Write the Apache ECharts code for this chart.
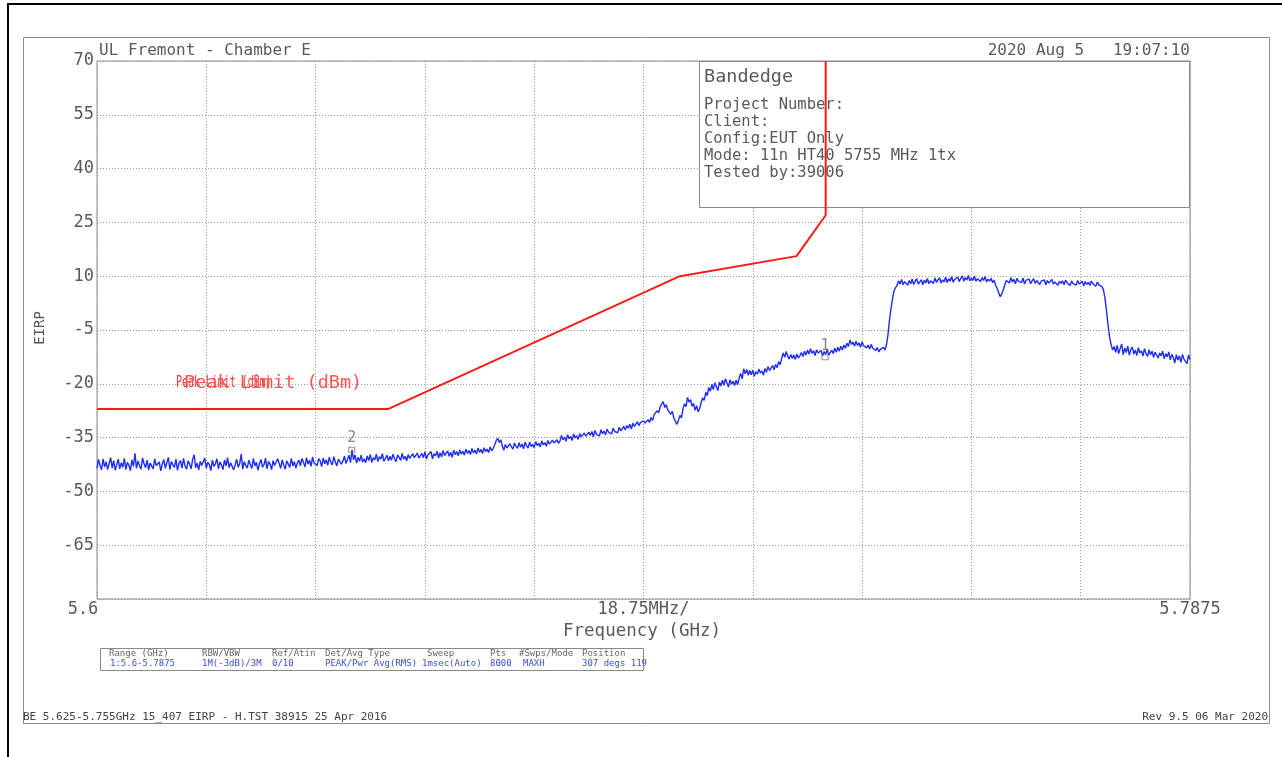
<!DOCTYPE html>
<html>
<head>
<meta charset="utf-8">
<title>Bandedge EIRP</title>
<script src="https://cdn.jsdelivr.net/npm/echarts@6/dist/echarts.min.js"></script>
<style>
  html, body { margin: 0; padding: 0; background: #fff; }
  #chart { width: 1282px; height: 757px; }
</style>
</head>
<body>
<div id="chart"></div>
<script>
// Sweep settings (GHz)
const sweepStartGHz = 5.6;
const sweepStopGHz = 5.7875;
const freqStepGHz = 0.01875;

// Max-hold trace (dBm EIRP), consecutive sweep bins split into spectral regions
const traceFloor = [
  -43.6,-41.1,-42.8,-44.0,-40.9,-43.2,-41.7,-43.9,-42.2,-40.6,-43.5,-41.4,-44.1,-42.6,-41.0,-43.7,-42.0,-43.3,-40.8,-43.9,
  -41.9,-42.7,-44.2,-41.2,-43.0,-39.4,-43.6,-41.5,-42.9,-43.8,-40.7,-42.3,-43.4,-41.3,-44.0,-42.1,-41.6,-43.7,-40.9,-42.8,
  -43.2,-41.8,-44.3,-42.4,-41.1,-43.6,-42.0,-40.5,-43.9,-41.7,-42.6,-43.3,-41.0,-44.1,-42.2,-41.4,-43.5,-40.8,-42.9,-43.8,
  -41.5,-42.4,-43.7,-41.1,-39.8,-43.4,-42.1,-44.0,-41.6,-42.8,-43.1,-40.7,-43.6,-41.9,-42.5,-44.2,-41.3,-43.0,-42.3,-40.9,
  -43.7,-41.8,-42.6,-43.9,-41.2,-42.9,-40.6,-43.4,-42.0,-41.5,-44.0,-42.7,-41.0,-43.3,-42.2,-39.6,-43.8,-41.7,-42.8,-43.5,
  -41.3,-42.5,-43.6,-40.8,-42.9,-41.9,-44.1,-42.3,-41.1,-43.2,-42.6,-40.7,-43.7,-41.6,-42.4,-43.9,-41.4,-42.8,-43.0,-40.9,
  -42.2,-43.6,-41.2,-42.7,-43.8,-41.5,-42.0,-43.3,-40.8,-42.9,-41.7,-43.5,-42.1,-41.3
];
const traceFloorRise = [
  -42.9,-40.8,-41.9,-43.2,-40.6,-42.4,-41.3,-43.0,-40.4,-42.1,-41.7,-42.8,-40.9,-41.5,-43.1,-40.7,-42.3,-41.2,-42.7,-40.5,
  -41.9,-42.6,-40.3,-41.8,-42.9,-41.0,-40.6,-42.4,-41.5,-40.2,-42.2,-41.1,-39.9,-42.0,-38.4,-41.2,-39.8,-42.1,-40.5,-41.6,
  -39.9,-41.8,-40.9,-42.0,-40.1,-41.4,-39.7,-41.9,-40.6,-41.2,-39.6,-41.7,-40.3,-41.0,-39.5,-41.6,-40.8,-39.9,-41.5,-40.2,
  -41.3,-39.6,-40.9,-41.7,-39.8,-40.5,-41.4,-39.4,-41.0,-40.2,-41.5,-39.7,-40.8,-41.2,-39.5,-40.6,-41.1,-39.3,-40.7,
  -41.2,-39.4,-40.6,-39.0,-41.0,-39.8,-40.3,-38.9,-40.9,-39.5,-40.1,-38.8,-40.7,-39.2,-40.4,-38.6,-40.0,-39.6,-38.7,-40.2,
  -39.1,-40.5,-38.5,-39.8,-38.9,-40.1,-38.4,-39.6,-38.8,-39.9,-38.2,-39.4,-38.6,-39.7,-38.0,-39.3,-38.5,-39.6,-37.9,-39.1,
  -38.3,-39.4,-37.8,-38.9,-38.2,-39.2,-37.6,-38.7,-38.0,
  -37.0,-35.8,-35.2,-36.4,-35.6,-37.3
];
const traceLowerSkirt = [
  -38.5,-36.9,-37.9,-38.4,-36.7,-37.6,-38.2,-36.5,-37.4,-38.0,-36.4,-37.7,-36.8,-38.1,-36.3,-37.3,-37.9,-36.2,-37.5,-36.9,
  -37.8,-36.1,-37.2,-36.6,-37.6,-35.9,-37.0,-36.4,-37.4,-35.8,-36.8,-37.1,-35.7,-36.5,-37.0,-35.6,-36.6,
  -35.9,-34.4,-35.6,-34.9,-36.0,-34.2,-35.3,-34.7,-35.8,-34.0,-35.1,-34.5,-35.5,-33.9,-34.8,-35.2,-33.7,-34.6,-35.0,-33.5,
  -34.4,-33.3,-34.8,-33.0,-34.1,-33.6,-34.5,-32.8,-33.9,-33.2,-34.2,-32.6,-33.5,-33.0,-34.0,-32.4,-33.3,-32.8,-33.7,-32.1,
  -33.1,-32.5,-31.9,-32.9,-31.6,-32.4,-31.3,-32.6,-31.0,-31.9,-31.4,-30.6,-31.7,-30.8,-31.2,-30.3,-31.0,-30.5,-30.0,
  -30.8,-29.4,-30.2,-28.6,-29.0,-27.5,-28.1,-26.4,-25.6,-25.0,-26.6,-25.8,-27.3,-27.9,-28.5,-27.7,-29.6,-30.4,-31.3,-30.2,
  -28.8,-29.5,-27.0,-25.6,-26.4,-23.8,-25.1,-24.4,-26.2,-25.5,-27.4,-26.1,-27.8,-26.9
];
const traceUpperSkirt = [
  -25.2,-23.9,-24.6,-22.4,-23.3,-21.0,-22.1,-20.2,-21.6,-19.7,-20.8,-21.9,-19.5,-20.6,-19.0,-20.4,-18.6,-19.8,-20.9,-18.9,
  -20.1,-19.3,-20.5,-19.0,-20.2,-18.4,-17.1,-18.6,-15.8,-17.2,-16.0,-17.6,-16.3,
  -17.5,-16.2,-17.9,-16.6,-17.3,-15.9,-17.0,-16.4,-17.6,-15.7,-16.8,-15.2,-16.3,-15.6,-14.9,-16.1,-14.6,-15.5,-13.8,-14.7,
  -12.9,-11.4,-12.6,-11.0,-12.3,-13.1,-11.8,-12.9,-12.0,-13.2,-11.7,-12.8,-12.2,
  -11.3,-12.4,-10.9,-12.0,-10.6,-11.7,-10.2,-11.5,-10.8,-12.1,-10.5,-11.4,-11.9,-10.7,-12.2,-11.0,-11.8,-10.4,-12.0,-11.3,
  -10.6,-11.6,-10.1,-11.2,-9.8,-10.9,-9.5,-10.6,-9.2,-10.1,-8.7,-9.6,-7.8,-9.0,-8.4,-9.5,-8.1,-9.3,-8.6,-9.8,
  -8.3,-9.4,-8.9,-10.0,-9.2,-10.3,-9.0,-10.1,-9.6,-10.7,-9.9,-11.1,-10.4
];
const traceChannel = [
  -10.9,-9.8,-10.6,-9.2,-6.5,-2.4,0.8,3.6,5.9,6.8,
  7.4,8.7,7.8,9.1,7.6,8.5,9.0,7.5,8.8,7.9,9.2,7.7,8.6,9.3,7.8,8.4,9.0,7.6,8.9,8.1,
  9.4,7.9,8.7,9.2,8.0,9.5,8.3,8.8,9.6,8.1,9.0,8.4,9.7,8.2,9.3,8.6,9.9,8.3,9.1,8.7,
  9.8,8.5,9.4,10.1,8.6,9.6,8.9,10.2,8.7,9.5,8.8,10.0,8.6,9.3,9.7,8.5,9.6,8.8,9.9,8.4,
  9.2,
  8.6,9.4,8.2,8.9,7.4,6.6,5.4,4.3,5.0,6.2,7.6,8.8,
  9.3,8.1,9.6,8.4,9.1,7.9,9.4,8.6,9.0,8.2,9.5,7.8,8.9,8.5,9.2,7.9,8.7,9.3,8.0,8.8,
  9.1,7.7,8.6,8.2,9.0,7.6,8.8,8.1,8.5,9.1,7.8,8.4,8.9,7.5,8.6,8.0,8.7,7.6,8.9,8.2,
  8.4,7.4,8.7,7.9,8.3,7.5,8.8,7.8,8.2,8.6,7.3,8.5,7.7,8.3,7.4,8.6,7.9,8.1,7.2,8.4,
  7.6,8.0,
  7.1,6.2,3.8,0.4,-3.6,-6.9,-9.0,-10.6,-9.6,-11.2
];
const traceAbove = [
  -9.3,-11.6,-10.2,-8.9,-11.9,-10.0,-11.3,-9.5,-12.0,-10.4,-9.8,-11.7,-10.6,-12.1,-9.9,-11.4,-10.8,-12.3,-10.2,-11.6,
  -12.4,-10.5,-11.9,-10.9,-12.6,-11.2,-10.7,-12.8,-11.4,-12.2,-10.9,-13.0,-11.6,-12.5,-11.1,-13.3,-11.8,-12.7,-14.2,-11.9,
  -13.4,-12.2,-14.0,-11.8,-13.1,-12.6,-14.4,-12.0,-13.2
];
const traceDbm = [].concat(traceFloor, traceFloorRise, traceLowerSkirt, traceUpperSkirt, traceChannel, traceAbove);

// 15.407 peak limit mask
const limitFreqGHz = [5.6, 5.65, 5.7, 5.72, 5.725, 5.725];
const limitDbm = [-27, -27, 10, 15.6, 27, 70];

// Markers
const markerNames = ['1', '2'];
const markerFreqGHz = [5.7249, 5.6437];
const markerDbm = [-12.6, -38.4];

// Axis labels
const xTickLabels = ['5.6', '', '', '', '', '18.75MHz/', '', '', '', '', '5.7875'];
const yMin = -80, yMax = 70, yStep = 15;

// Header / info texts
const headerLeft = 'UL Fremont - Chamber E';
const headerRight = '2020 Aug 5   19:07:10';
const infoTitle = 'Bandedge';
const infoLines = ['Project Number:', 'Client:', 'Config:EUT Only', 'Mode: 11n HT40 5755 MHz 1tx', 'Tested by:39006'];
const setupHeads = ['Range (GHz)', 'RBW/VBW', 'Ref/Atin', 'Det/Avg Type', 'Sweep', 'Pts', '#Swps/Mode', 'Position'];
const setupValues = ['1:5.6-5.7875', '1M(-3dB)/3M', '0/10', 'PEAK/Pwr Avg(RMS)', '1msec(Auto)', '8000', 'MAXH', '307 degs 119'];
const footerLeft = 'BE 5.625-5.755GHz 15_407 EIRP - H.TST 38915 25 Apr 2016';
const footerRight = 'Rev 9.5 06 Mar 2020';
const limitLabel = 'Peak Limit (dBm)';

// sweep bin frequencies
const traceFreqGHz = traceDbm.map((_, i) => sweepStartGHz + i * (sweepStopGHz - sweepStartGHz) / (traceDbm.length - 1));
const traceData = traceDbm.map((v, i) => [traceFreqGHz[i], v]);
const limitData = limitDbm.map((v, i) => [limitFreqGHz[i], v]);
const markerData = markerDbm.map((v, i) => ({ value: [markerFreqGHz[i], v], name: markerNames[i] }));

const MONO = '"DejaVu Sans Mono", "Liberation Mono", monospace';
const TXT = '#5a5a5a';
const BLUE_TXT = '#3a4fe0';

const setupCols = [109, 202, 272, 325, 427, 490, 519, 582];
const setupValueCols = [110, 202, 272, 325, 422, 490, 523, 582];

const graphics = [
  // outer page frame
  { type: 'polyline', shape: { points: [[8, 760], [8, 4], [1290, 4]] }, style: { stroke: '#000', lineWidth: 2, fill: null }, silent: true },
  // report frame
  { type: 'rect', shape: { x: 23.5, y: 37.5, width: 1246, height: 686 }, style: { stroke: '#8a8a8a', fill: null, lineWidth: 1 }, silent: true },
  { type: 'text', left: 99, top: 43, style: { text: headerLeft, font: '16px ' + MONO, fill: TXT } },
  { type: 'text', right: 92, top: 43, style: { text: headerRight, font: '16px ' + MONO, fill: TXT } },
  // info box over the plot
  { type: 'rect', z: 1, shape: { x: 699.5, y: 61.5, width: 490, height: 146 }, style: { stroke: '#8a8a8a', fill: '#fff', lineWidth: 1 } },
  { type: 'text', z: 1, left: 704, top: 68, style: { text: infoTitle, font: '18.5px ' + MONO, fill: TXT } },
  ...infoLines.map((t, i) => ({ type: 'text', z: 1, left: 704, top: 97 + i * 17, style: { text: t, font: '15.5px ' + MONO, fill: TXT } })),
  // limit line legend (two overlapping plot labels)
  { type: 'text', z: 3, x: 176, y: 383, scaleX: 0.62, style: { text: limitLabel, font: '16px ' + MONO, fill: '#ff3030', verticalAlign: 'middle' } },
  { type: 'text', z: 3, x: 184, y: 383, style: { text: limitLabel, font: '18.5px ' + MONO, fill: '#ff5555', verticalAlign: 'middle' } },
  // axis names
  { type: 'text', left: 563, top: 622, style: { text: 'Frequency (GHz)', font: '17.5px ' + MONO, fill: TXT } },
  { type: 'text', x: 40, y: 328, rotation: Math.PI / 2, style: { text: 'EIRP', font: '14px ' + MONO, fill: TXT, align: 'center', verticalAlign: 'middle' } },
  // setup table
  { type: 'rect', shape: { x: 100.5, y: 648.5, width: 543, height: 22 }, style: { stroke: '#8a8a8a', fill: null, lineWidth: 1 } },
  ...setupHeads.map((t, i) => ({ type: 'text', left: setupCols[i], top: 649, style: { text: t, font: '9px ' + MONO, fill: '#666' } })),
  ...setupValues.map((t, i) => ({ type: 'text', left: setupValueCols[i], top: 659, style: { text: t, font: '9px ' + MONO, fill: BLUE_TXT } })),
  // footer
  { type: 'text', left: 23, top: 712, style: { text: footerLeft, font: '11px ' + MONO, fill: '#444' } },
  { type: 'text', right: 14, top: 712, style: { text: footerRight, font: '11px ' + MONO, fill: '#444' } }
];

const chart = echarts.init(document.getElementById('chart'), null, { renderer: 'canvas' });
chart.setOption({
  backgroundColor: '#fff',
  animation: false,
  grid: { left: 97, top: 61, width: 1093, height: 538, show: true, borderColor: '#8a8a8a', borderWidth: 1, containLabel: false },
  xAxis: {
    type: 'value',
    min: sweepStartGHz,
    max: sweepStopGHz,
    interval: freqStepGHz,
    axisLine: { show: false },
    axisTick: { show: false },
    splitLine: { show: true, lineStyle: { color: '#9a9a9a', type: [1, 2], width: 1 } },
    axisLabel: {
      show: true,
      showMinLabel: true,
      showMaxLabel: true,
      margin: 2,
      formatter: (v, i) => xTickLabels[i] === '5.6' ? '{first|5.6}' : (xTickLabels[i] || ''),
      fontFamily: MONO,
      fontSize: 17,
      color: TXT,
      rich: { first: { fontFamily: MONO, fontSize: 17, color: TXT, padding: [0, 28, 0, 0] } }
    }
  },
  yAxis: {
    type: 'value',
    min: yMin,
    max: yMax,
    interval: yStep,
    axisLine: { show: false },
    axisTick: { show: false },
    splitLine: { show: true, lineStyle: { color: '#9a9a9a', type: [1, 2], width: 1 } },
    axisLabel: {
      margin: 3,
      formatter: v => (Math.round(v) === yMin ? '' : String(Math.round(v))),
      fontFamily: MONO,
      fontSize: 17,
      color: TXT
    }
  },
  graphic: { elements: graphics },
  series: [
    {
      name: 'Trace',
      type: 'line',
      data: traceData,
      showSymbol: false,
      z: 2,
      lineStyle: { color: '#1f2cff', width: 1.4 },
      silent: true
    },
    {
      name: 'Peak Limit (dBm)',
      type: 'line',
      data: limitData,
      showSymbol: false,
      z: 4,
      lineStyle: { color: '#ff1a1a', width: 2 },
      silent: true
    },
    {
      name: 'Markers',
      type: 'scatter',
      data: markerData,
      z: 5,
      symbol: 'rect',
      symbolSize: [6, 5],
      itemStyle: { color: 'rgba(0,0,0,0)', borderColor: '#777', borderWidth: 1 },
      label: { show: true, position: 'top', distance: 1, formatter: p => p.name, fontFamily: MONO, fontSize: 15, color: '#666' },
      silent: true
    }
  ]
});
</script>
</body>
</html>
